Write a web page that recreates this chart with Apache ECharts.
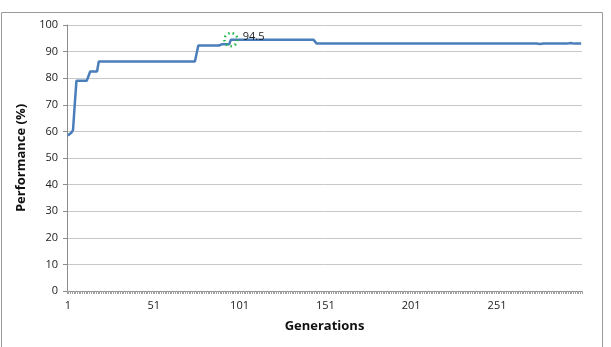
<!DOCTYPE html>
<html>
<head>
<meta charset="UTF-8">
<title>Performance by generation</title>
<script type="text/javascript" src="https://cdn.jsdelivr.net/npm/echarts@6/dist/echarts.min.js"></script>
<style>
    body { margin: 0; background: #fff; }
</style>
</head>
<body>

    <div id="main" style="width: 611px; height: 347px;"></div>
    <script type="text/javascript">
        // performance per generation (gen 1..300)
        var performance = [
            58.5, 58.5, 59.5, 60.5, 70.0, 79.0, 79.0, 79.0, 79.0, 79.0,
            79.0, 79.0, 79.0, 82.5, 82.5, 82.5, 82.5, 82.5, 86.3, 86.3,
            86.3, 86.3, 86.3, 86.3, 86.3, 86.3, 86.3, 86.3, 86.3, 86.3,
            86.3, 86.3, 86.3, 86.3, 86.3, 86.3, 86.3, 86.3, 86.3, 86.3,
            86.3, 86.3, 86.3, 86.3, 86.3, 86.3, 86.3, 86.3, 86.3, 86.3,
            86.3, 86.3, 86.3, 86.3, 86.3, 86.3, 86.3, 86.3, 86.3, 86.3,
            86.3, 86.3, 86.3, 86.3, 86.3, 86.3, 86.3, 86.3, 86.3, 86.3,
            86.3, 86.3, 86.3, 86.3, 86.3, 86.3, 92.3, 92.3, 92.3, 92.3,
            92.3, 92.3, 92.3, 92.3, 92.3, 92.3, 92.3, 92.3, 92.3, 92.8,
            92.8, 92.8, 92.8, 92.8, 92.8, 94.5, 94.5, 94.5, 94.5, 94.5,
            94.5, 94.5, 94.5, 94.5, 94.5, 94.5, 94.5, 94.5, 94.5, 94.5,
            94.5, 94.5, 94.5, 94.5, 94.5, 94.5, 94.5, 94.5, 94.5, 94.5,
            94.5, 94.5, 94.5, 94.5, 94.5, 94.5, 94.5, 94.5, 94.5, 94.5,
            94.5, 94.5, 94.5, 94.5, 94.5, 94.5, 94.5, 94.5, 94.5, 94.5,
            94.5, 94.5, 94.5, 94.5, 94.5, 93.0, 93.0, 93.0, 93.0, 93.0,
            93.0, 93.0, 93.0, 93.0, 93.0, 93.0, 93.0, 93.0, 93.0, 93.0,
            93.0, 93.0, 93.0, 93.0, 93.0, 93.0, 93.0, 93.0, 93.0, 93.0,
            93.0, 93.0, 93.0, 93.0, 93.0, 93.0, 93.0, 93.0, 93.0, 93.0,
            93.0, 93.0, 93.0, 93.0, 93.0, 93.0, 93.0, 93.0, 93.0, 93.0,
            93.0, 93.0, 93.0, 93.0, 93.0, 93.0, 93.0, 93.0, 93.0, 93.0,
            93.0, 93.0, 93.0, 93.0, 93.0, 93.0, 93.0, 93.0, 93.0, 93.0,
            93.0, 93.0, 93.0, 93.0, 93.0, 93.0, 93.0, 93.0, 93.0, 93.0,
            93.0, 93.0, 93.0, 93.0, 93.0, 93.0, 93.0, 93.0, 93.0, 93.0,
            93.0, 93.0, 93.0, 93.0, 93.0, 93.0, 93.0, 93.0, 93.0, 93.0,
            93.0, 93.0, 93.0, 93.0, 93.0, 93.0, 93.0, 93.0, 93.0, 93.0,
            93.0, 93.0, 93.0, 93.0, 93.0, 93.0, 93.0, 93.0, 93.0, 93.0,
            93.0, 93.0, 93.0, 93.0, 93.0, 93.0, 93.0, 93.0, 93.0, 93.0,
            93.0, 93.0, 93.0, 93.0, 93.2, 92.9, 93.0, 93.0, 93.0, 93.0,
            93.0, 93.0, 93.0, 93.0, 93.0, 93.0, 93.0, 93.0, 93.0, 93.0,
            93.0, 93.0, 93.0, 93.2, 93.0, 93.0, 93.0, 93.0, 93.0, 93.0
        ];
        var generations = performance.map(function (v, i) { return String(i + 1); });

        // highlighted best value (generation, value)
        var bestGen = '96';
        var bestValue = 94.5;

        var yMin = 0, yMax = 100, yStep = 10;

        var myChart = echarts.init(document.getElementById('main'));

        var option = {
            animation: false,
            textStyle: { fontFamily: 'Open Sans, Liberation Sans, Arial, sans-serif' },
            grid: { left: 67, right: 29, top: 25, bottom: 56 },
            graphic: [{
                type: 'rect',
                shape: { x: 1.5, y: 12.5, width: 601, height: 345 },
                style: { fill: 'none', stroke: '#9a9a9a', lineWidth: 1 },
                silent: true
            }],
            xAxis: {
                type: 'category',
                data: generations,
                boundaryGap: true,
                name: 'Generations',
                nameLocation: 'middle',
                nameGap: 29,
                nameTextStyle: { fontWeight: 'bold', fontSize: 13, color: '#111' },
                axisLine: { lineStyle: { color: '#8c8c8c' } },
                axisTick: { show: true, interval: 0, length: 3, lineStyle: { color: '#a0a0a0' } },
                axisLabel: { interval: 49, fontSize: 11, color: '#222', margin: 9 },
                splitLine: { show: false }
            },
            yAxis: {
                type: 'value',
                min: yMin,
                max: yMax,
                interval: yStep,
                name: 'Performance (%)',
                nameLocation: 'middle',
                nameRotate: 90,
                nameGap: 39,
                nameTextStyle: { fontWeight: 'bold', fontSize: 13, color: '#111' },
                axisLine: { show: true, lineStyle: { color: '#8c8c8c' } },
                axisTick: { show: true, length: 4, lineStyle: { color: '#8c8c8c' } },
                axisLabel: { fontSize: 11, color: '#222', margin: 9 },
                splitLine: { lineStyle: { color: '#c8c8c8' } }
            },
            series: [{
                name: 'Performance',
                type: 'line',
                data: performance,
                symbol: 'none',
                lineStyle: { color: '#4a7ebb', width: 2.5 },
                itemStyle: { color: '#4a7ebb' },
                markPoint: {
                    symbol: 'circle',
                    symbolSize: 13,
                    itemStyle: {
                        color: 'rgba(0,0,0,0)',
                        borderColor: '#22b44a',
                        borderWidth: 2.5,
                        borderType: [1.5, 3]
                    },
                    label: {
                        show: true,
                        position: 'right',
                        offset: [-1, -3],
                        fontSize: 11,
                        color: '#222',
                        formatter: String(bestValue)
                    },
                    data: [{ coord: [bestGen, bestValue] }]
                }
            }]
        };

        myChart.setOption(option);
    </script>
</body>
</html>
